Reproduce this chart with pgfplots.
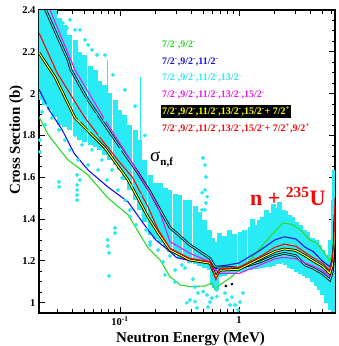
\documentclass[border=0pt]{standalone}
\usepackage{fontspec}
\setmainfont{Liberation Serif}
\usepackage{pgfplots}
\pgfplotsset{compat=1.18}
\definecolor{cgreen}{RGB}{40,220,40}
\definecolor{cblue}{RGB}{20,20,230}
\definecolor{ccyan}{RGB}{40,235,245}
\definecolor{cmag}{RGB}{240,20,240}
\definecolor{cyel}{RGB}{255,255,0}
\definecolor{cred}{RGB}{240,10,10}
\newcommand{\msup}{\textsuperscript{-}}
\newcommand{\psup}{\textsuperscript{+}}
\begin{document}
\begin{tikzpicture}[x=1pt,y=1pt]
\useasboundingbox (-39,-33) rectangle (300,313);
\begin{axis}[at={(0,0)}, anchor=south west, scale only axis,
  width=296pt, height=303pt,
  xmode=log, xmin=0.02086, xmax=6.41, ymin=0.9507, ymax=2.4,
  axis line style={line width=1.2pt},
  tick style={line width=0.9pt, black},
  major tick length=6pt, minor tick length=3.5pt, tick align=inside,
  xtick pos=both, ytick pos=both, xticklabel pos=lower, yticklabel pos=left,
  xtick={0.1,1}, xticklabels={10\textsuperscript{-1},1},
  minor xtick={0.03,0.04,0.05,0.06,0.07,0.08,0.09,0.2,0.3,0.4,0.5,0.6,0.7,0.8,0.9,2,3,4,5,6},
  ytick={1,1.2,1.4,1.6,1.8,2,2.2,2.4},
  yticklabels={1,1.2,1.4,1.6,1.8,2,2.2,2.4},
  minor y tick num=3,
  ticklabel style={font=\bfseries\fontsize{10.5}{12}\selectfont},
  band/.style={ccyan, line width=5pt},
  clip=true]
% experimental band: vertical bars (energy, low, high)
\addplot[band] coordinates {(0.0213,1.970) (0.0213,2.42)};
\addplot[band] coordinates {(0.0234,1.946) (0.0234,2.42)};
\addplot[band] coordinates {(0.0258,1.922) (0.0258,2.42)};
\addplot[band] coordinates {(0.0284,1.886) (0.0284,2.42)};
\addplot[band] coordinates {(0.0313,1.850) (0.0313,2.36)};
\addplot[band] coordinates {(0.0345,1.838) (0.0345,2.33)};
\addplot[band] coordinates {(0.038,1.827) (0.038,2.281)};
\addplot[band] coordinates {(0.0419,1.803) (0.0419,2.257)};
\addplot[band] coordinates {(0.0461,1.779) (0.0461,2.201)};
\addplot[band] coordinates {(0.0508,1.767) (0.0508,2.185)};
\addplot[band] coordinates {(0.056,1.755) (0.056,2.131)};
\addplot[band] coordinates {(0.0617,1.743) (0.0617,2.115)};
\addplot[band] coordinates {(0.0679,1.731) (0.0679,2.061)};
\addplot[band] coordinates {(0.0748,1.707) (0.0748,2.043)};
\addplot[band] coordinates {(0.0824,1.683) (0.0824,2.001)};
\addplot[band] coordinates {(0.0908,1.659) (0.0908,1.971)};
\addplot[band] coordinates {(0.1,1.635) (0.1,1.921)};
\addplot[band] coordinates {(0.110,1.587) (0.110,1.899)};
\addplot[band] coordinates {(0.121,1.539) (0.121,1.851)};
\addplot[band] coordinates {(0.134,1.492) (0.134,1.828)};
\addplot[band] coordinates {(0.147,1.444) (0.147,1.780)};
\addplot[band] coordinates {(0.162,1.384) (0.162,1.684)};
\addplot[band] coordinates {(0.179,1.324) (0.179,1.612)};
\addplot[band] coordinates {(0.197,1.305) (0.197,1.571)};
\addplot[band] coordinates {(0.217,1.285) (0.217,1.573)};
\addplot[band] coordinates {(0.239,1.264) (0.239,1.550)};
\addplot[band] coordinates {(0.263,1.242) (0.263,1.540)};
\addplot[band] coordinates {(0.290,1.228) (0.290,1.520)};
\addplot[band] coordinates {(0.319,1.214) (0.319,1.516)};
\addplot[band] coordinates {(0.352,1.202) (0.352,1.490)};
\addplot[band] coordinates {(0.387,1.190) (0.387,1.492)};
\addplot[band] coordinates {(0.427,1.183) (0.427,1.461)};
\addplot[band] coordinates {(0.470,1.176) (0.470,1.434)};
\addplot[band] coordinates {(0.518,1.166) (0.518,1.396)};
\addplot[band] coordinates {(0.570,1.156) (0.570,1.348)};
\addplot[band] coordinates {(0.604,1.085) (0.604,1.311)};
\addplot[band] coordinates {(0.628,1.070) (0.628,1.268)};
\addplot[band] coordinates {(0.653,1.061) (0.653,1.291)};
\addplot[band] coordinates {(0.692,1.123) (0.692,1.331)};
\addplot[band] coordinates {(0.762,1.130) (0.762,1.320)};
\addplot[band] coordinates {(0.84,1.137) (0.84,1.349)};
\addplot[band] coordinates {(0.925,1.142) (0.925,1.330)};
\addplot[band] coordinates {(1.02,1.147) (1.02,1.339)};
\addplot[band] coordinates {(1.12,1.152) (1.12,1.350)};
\addplot[band] coordinates {(1.24,1.156) (1.24,1.362)};
\addplot[band] coordinates {(1.31,1.159) (1.31,1.401)};
\addplot[band] coordinates {(1.39,1.162) (1.39,1.372)};
\addplot[band] coordinates {(1.50,1.166) (1.50,1.396)};
\addplot[band] coordinates {(1.59,1.168) (1.59,1.410)};
\addplot[band] coordinates {(1.69,1.169) (1.69,1.441)};
\addplot[band] coordinates {(1.82,1.171) (1.82,1.429)};
\addplot[band] coordinates {(1.96,1.177) (1.96,1.471)};
\addplot[band] coordinates {(2.12,1.183) (2.12,1.453)};
\addplot[band] coordinates {(2.21,1.184) (2.21,1.480)};
\addplot[band] coordinates {(2.35,1.190) (2.35,1.444)};
\addplot[band] coordinates {(2.48,1.180) (2.48,1.440)};
\addplot[band] coordinates {(2.68,1.166) (2.68,1.420)};
\addplot[band] coordinates {(2.84,1.159) (2.84,1.411)};
\addplot[band] coordinates {(3.07,1.149) (3.07,1.387)};
\addplot[band] coordinates {(3.31,1.139) (3.31,1.371)};
\addplot[band] coordinates {(3.58,1.126) (3.58,1.348)};
\addplot[band] coordinates {(3.79,1.116) (3.79,1.340)};
\addplot[band] coordinates {(4.11,1.100) (4.11,1.310)};
\addplot[band] coordinates {(4.44,1.080) (4.44,1.300)};
\addplot[band] coordinates {(4.79,1.060) (4.79,1.276)};
\addplot[band] coordinates {(5.08,1.035) (5.08,1.251)};
\addplot[band] coordinates {(5.49,1.000) (5.49,1.228)};
\addplot[band] coordinates {(5.82,0.965) (5.82,1.301)};
\addplot[band] coordinates {(6.17,0.955) (6.17,1.492)};
\addplot[band] coordinates {(6.41,0.955) (6.41,1.636)};
% spikes
\addplot[ccyan, line width=1pt] coordinates {(0.079,1.84) (0.079,2.16)};
\addplot[ccyan, line width=1pt] coordinates {(0.15,1.75) (0.15,2.08)};
% scattered points
\addplot[only marks, color=ccyan, mark=*, mark size=1.8pt, mark options={draw=ccyan, fill=ccyan}] coordinates {
(0.0221,1.912) (0.0234,1.850) (0.0213,1.778) (0.0213,1.721) (0.0248,1.946) (0.0268,1.884) (0.0296,1.970) (0.0307,1.826) (0.0325,1.898) (0.0345,1.778) (0.0366,1.850) (0.038,1.731) (0.0395,1.946) (0.0419,1.802) (0.0444,1.683) (0.0461,1.874) (0.0479,1.755) (0.0508,1.970) (0.0539,1.659) (0.056,1.826) (0.0582,1.731) (0.0617,1.898) (0.0654,1.635) (0.0679,1.802) (0.0706,1.683) (0.0748,1.874) (0.0777,1.587) (0.0824,1.755) (0.0856,1.635) (0.0908,1.826) (0.0962,1.539) (0.1,1.731) (0.104,1.597) (0.110,1.491) (0.117,1.659) (0.121,1.444) (0.129,1.563) (0.136,1.372) (0.147,1.515) (0.156,1.420) (0.166,1.348) (0.179,1.276) (0.197,1.420) (0.209,1.252) (0.230,1.195) (0.263,1.223) (0.290,1.156) (0.331,1.180) (0.352,1.166) (0.410,1.113) (0.427,1.075) (0.452,1.046) (0.387,1.013) (0.538,1.037) (0.592,1.022) (0.570,1.003) (0.653,1.061) (0.762,1.046) (0.792,1.013) (0.872,1.027) (0.925,0.989) (1.02,1.003) (1.08,1.046) (0.443,0.975) (0.549,0.979) (0.290,1.099) (0.239,1.133) (0.365,1.00) (0.427,1.005) (0.50,1.053) (0.65,1.029) (0.84,0.989) (0.98,0.965)
(0.0331,2.338) (0.0359,2.314) (0.038,2.353) (0.0419,2.305) (0.0461,2.305) (0.0508,2.257) (0.0539,2.233) (0.0582,2.209) (0.0641,2.185) (0.0748,2.185) (0.0873,2.09) (0.110,2.018) (0.134,1.940) (0.162,1.80)
(0.498,1.692) (0.518,1.659) (0.528,1.601) (0.518,1.539) (0.54,1.507) (0.528,1.477) (0.518,1.444) (0.49,1.526) (0.49,1.444)
(0.0307,1.578) (0.0307,1.554) (0.0436,1.611) (0.0436,1.563) (0.0436,1.539) (0.0436,1.515) (0.0436,1.491) (0.0461,1.587) (0.079,1.300) (0.079,1.271) (0.081,1.238) (0.081,1.128) (0.0908,1.357) (0.0908,1.333) (0.121,1.412) (0.179,1.29)
};
\addplot[only marks, color=black, mark=*, mark size=1.2pt] coordinates {(0.775,1.080) (0.872,1.089)};
% model curves
\addplot[cgreen, line width=1.1pt] coordinates {
(0.0209,1.889) (0.025,1.802) (0.0366,1.683) (0.0538,1.611) (0.079,1.501) (0.117,1.420) (0.172,1.262) (0.217,1.205) (0.263,1.125) (0.32,1.085) (0.387,1.077) (0.518,1.080) (0.59,1.093) (0.636,1.060) (0.67,1.080) (0.84,1.118) (1.24,1.204) (1.82,1.315) (2.34,1.381) (2.8,1.375) (3.25,1.35) (3.95,1.30) (4.5,1.285) (5.2,1.24) (5.8,1.20) (6.1,1.23) (6.3,1.30) (6.41,1.42)};
\addplot[cblue, line width=1.1pt] coordinates {
(0.0209,2.02) (0.0254,1.922) (0.0327,1.826) (0.041,1.716) (0.0538,1.635) (0.079,1.554) (0.117,1.482) (0.172,1.348) (0.2,1.30) (0.25,1.255) (0.3,1.215) (0.4,1.20) (0.5,1.195) (0.6,1.185) (0.64,1.16) (0.68,1.175) (0.8,1.18) (1.0,1.19) (1.5,1.25) (2.0,1.30) (2.4,1.315) (3.0,1.305) (3.6,1.265) (4.2,1.245) (5.0,1.20) (5.8,1.172) (6.1,1.21) (6.3,1.30) (6.41,1.40)};
\addplot[black, line width=2.6pt] coordinates {
(0.0209,2.47) (0.0366,2.161) (0.0387,2.114) (0.0538,1.970) (0.0908,1.779) (0.142,1.62) (0.179,1.53) (0.209,1.46) (0.263,1.36) (0.387,1.276) (0.57,1.212) (0.628,1.172) (0.68,1.17) (0.8,1.17) (1.0,1.165) (1.5,1.195) (2.0,1.225) (2.4,1.236) (3.0,1.225) (3.6,1.18) (4.2,1.165) (5.0,1.14) (5.8,1.109) (6.1,1.15) (6.3,1.25) (6.41,1.38)};
\addplot[ccyan, line width=1pt] coordinates {
(0.0209,2.47) (0.0366,2.161) (0.0387,2.114) (0.0538,1.970) (0.0908,1.779) (0.142,1.62) (0.179,1.53) (0.209,1.46) (0.263,1.36) (0.387,1.276) (0.57,1.212) (0.628,1.172) (0.68,1.17) (0.8,1.17) (1.0,1.165) (1.5,1.195) (2.0,1.225) (2.4,1.236) (3.0,1.225) (3.6,1.18) (4.2,1.165) (5.0,1.14) (5.8,1.109) (6.1,1.15) (6.3,1.25) (6.41,1.38)};
\addplot[cmag, line width=1.1pt] coordinates {
(0.0209,2.55) (0.0258,2.40) (0.0419,2.113) (0.0748,1.874) (0.127,1.668) (0.172,1.54) (0.209,1.458) (0.263,1.292) (0.387,1.236) (0.57,1.196) (0.628,1.156) (0.69,1.14) (1.0,1.14) (1.5,1.18) (2.0,1.21) (2.4,1.217) (3.0,1.21) (3.6,1.19) (4.2,1.175) (5.0,1.155) (5.8,1.124) (6.1,1.16) (6.3,1.26) (6.41,1.38)};
\addplot[black, line width=2.6pt] coordinates {
(0.0209,2.195) (0.0284,2.08) (0.0419,1.884) (0.0748,1.74) (0.117,1.587) (0.172,1.41) (0.209,1.334) (0.263,1.252) (0.387,1.204) (0.57,1.189) (0.64,1.124) (0.69,1.155) (1.0,1.16) (1.5,1.21) (2.0,1.245) (2.4,1.257) (3.0,1.25) (3.6,1.225) (4.2,1.20) (5.0,1.175) (5.8,1.14) (6.1,1.18) (6.3,1.28) (6.41,1.42)};
\addplot[cyel, line width=1pt] coordinates {
(0.0209,2.195) (0.0284,2.08) (0.0419,1.884) (0.0748,1.74) (0.117,1.587) (0.172,1.41) (0.209,1.334) (0.263,1.252) (0.387,1.204) (0.57,1.189) (0.64,1.124) (0.69,1.155) (1.0,1.16) (1.5,1.21) (2.0,1.245) (2.4,1.257) (3.0,1.25) (3.6,1.225) (4.2,1.20) (5.0,1.175) (5.8,1.14) (6.1,1.18) (6.3,1.28) (6.41,1.42)};
\addplot[cred, line width=1.1pt] coordinates {
(0.0209,2.29) (0.0296,2.10) (0.05,1.89) (0.07,1.78) (0.1,1.67) (0.127,1.60) (0.172,1.458) (0.209,1.35) (0.263,1.26) (0.387,1.212) (0.57,1.196) (0.64,1.11) (0.69,1.16) (1.0,1.17) (1.5,1.22) (2.0,1.265) (2.4,1.28) (3.0,1.27) (3.6,1.24) (4.2,1.215) (5.0,1.19) (5.8,1.155) (6.1,1.20) (6.3,1.32) (6.41,1.50)};
\end{axis}
\node[anchor=base, font=\bfseries\fontsize{15}{15}\selectfont] at (151.5,-29) {Neutron Energy (MeV)};
\node[rotate=90, anchor=base, font=\bfseries\fontsize{15}{15}\selectfont] at (-19,173) {Cross Section (b)};
\begin{scope}[every node/.style={anchor=base west, inner sep=0pt, font=\bfseries\fontsize{10}{11}\selectfont}]
\node[text=cgreen] at (123,265.5) {7/2\msup,9/2\msup};
\node[text=cblue] at (123,248.7) {7/2\msup,9/2\msup,11/2\msup};
\node[text=ccyan] at (123,232) {7/2\msup,9/2\msup,11/2\msup,13/2\msup};
\node[text=cmag] at (123,215) {7/2\msup,9/2\msup,11/2\msup,13/2\msup,15/2\msup};
\node[text=cyel, fill=black, inner xsep=1pt, inner ysep=1.8pt] at (122,198.5) {7/2\msup,9/2\msup,11/2\msup,13/2\msup,15/2\msup + 7/2\psup};
\node[text=cred] at (123,181.5) {7/2\msup,9/2\msup,11/2\msup,13/2\msup,15/2\msup + 7/2\psup,9/2\psup};
\end{scope}
\node[anchor=base west, inner sep=0pt] at (111,151) {{\fontsize{19}{19}\selectfont σ}{\bfseries\fontsize{11}{11}\selectfont\raisebox{-4pt}{n,f}}};
\node[anchor=base west, inner sep=0pt, text=cred, font=\bfseries\fontsize{22}{22}\selectfont] at (211,108) {n + \textsuperscript{235}U};
\end{tikzpicture}
\end{document}
